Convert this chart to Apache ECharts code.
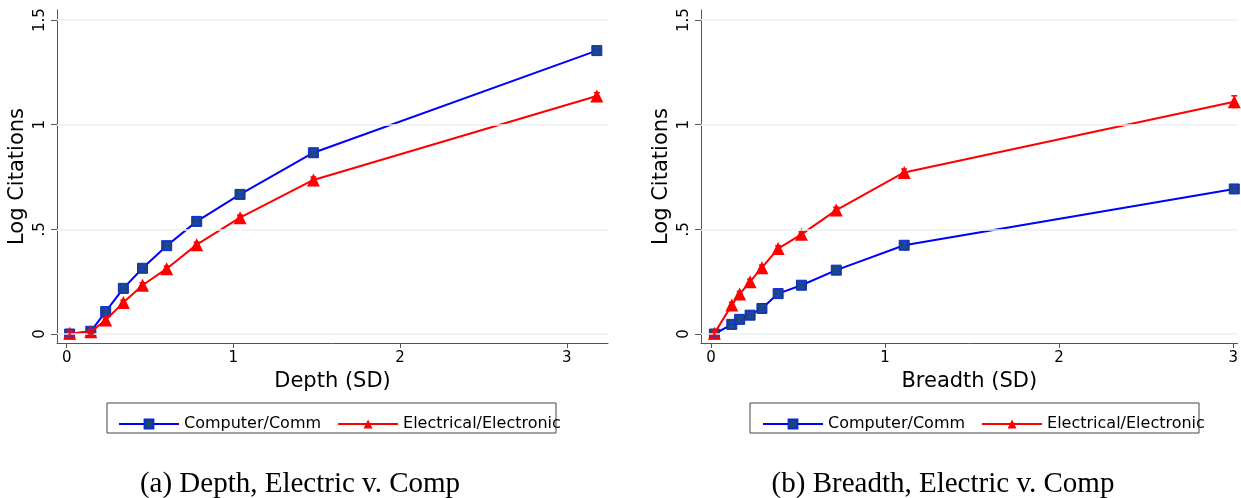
<!DOCTYPE html>
<html>
<head>
<meta charset="utf-8">
<script src="https://cdn.jsdelivr.net/npm/echarts@6/dist/echarts.min.js"></script>
<style>
  html, body { margin: 0; padding: 0; background: #fff; }
  #main { width: 1241px; height: 498px; }
</style>
</head>
<body>
<div id="main"></div>
<script>
// panel (a): depth
var depthX = [0.018, 0.145, 0.234, 0.34, 0.455, 0.60, 0.78, 1.04, 1.48, 3.18];
var depthComp = [0, 0.013, 0.107, 0.218, 0.314, 0.422, 0.538, 0.667, 0.866, 1.354];
var depthCompErr = [0.012, 0.012, 0.012, 0.012, 0.012, 0.012, 0.012, 0.012, 0.012, 0.014];
var depthElec = [0.003, 0.011, 0.067, 0.15, 0.233, 0.312, 0.427, 0.556, 0.736, 1.137];
var depthElecErr = [0.01, 0.01, 0.01, 0.012, 0.012, 0.012, 0.012, 0.012, 0.014, 0.016];
// panel (b): breadth
var breadthX = [0.02, 0.12, 0.165, 0.225, 0.293, 0.386, 0.52, 0.72, 1.11, 3.006];
var breadthComp = [0, 0.046, 0.07, 0.09, 0.122, 0.193, 0.233, 0.305, 0.424, 0.693];
var breadthCompErr = [0.012, 0.012, 0.012, 0.012, 0.012, 0.012, 0.012, 0.012, 0.012, 0.014];
var breadthElec = [0.003, 0.139, 0.191, 0.25, 0.317, 0.408, 0.476, 0.592, 0.772, 1.11];
var breadthElecErr = [0.01, 0.012, 0.012, 0.012, 0.012, 0.014, 0.012, 0.014, 0.016, 0.028];

var yTicks = [0, 0.5, 1, 1.5];
var xTicks = [0, 1, 2, 3];
var names = ['Computer/Comm', 'Electrical/Electronic'];

function pairs(xs, ys) {
    return xs.map(function (x, i) { return [x, ys[i]]; });
}
function errRows(xs, ys, es) {
    return xs.map(function (x, i) { return [x, ys[i] - es[i], ys[i] + es[i]]; });
}

var font = 'DejaVu Sans';
var myChart = echarts.init(document.getElementById('main'));

function xAxisFor(grid, name, min, max) {
    return {
        type: 'value', gridIndex: grid, min: min, max: max,
        name: name, nameLocation: 'middle', nameGap: 22,
        nameTextStyle: { fontFamily: font, fontSize: 21, color: '#000' },
        axisLine: { show: true, onZero: false, lineStyle: { color: '#555', width: 1 } },
        axisTick: { show: true, length: 5, customValues: xTicks, lineStyle: { color: '#555' } },
        axisLabel: { customValues: xTicks, margin: 8, fontFamily: font, fontSize: 15, color: '#000' },
        splitLine: { show: false }
    };
}
function yAxisFor(grid) {
    return {
        type: 'value', gridIndex: grid, min: -0.043, max: 1.548,
        name: 'Log Citations', nameLocation: 'middle', nameGap: 29,
        nameTextStyle: { fontFamily: font, fontSize: 21, color: '#000' },
        axisLine: { show: true, onZero: false, lineStyle: { color: '#555', width: 1 } },
        axisTick: { show: true, length: 6, customValues: yTicks, lineStyle: { color: '#555' } },
        axisLabel: {
            customValues: yTicks, rotate: 90, margin: 9,
            fontFamily: font, fontSize: 15, color: '#000',
            formatter: function (v) { return v === 0.5 ? '.5' : String(v); }
        },
        splitLine: { show: false }
    };
}
var gridLines = {
    silent: true, symbol: 'none', label: { show: false },
    lineStyle: { color: '#eaf2f3', width: 1.5, type: 'solid' },
    data: yTicks.map(function (v) { return { yAxis: v }; })
};
function compSeries(idx, data) {
    return {
        name: names[0], type: 'line', xAxisIndex: idx, yAxisIndex: idx, data: data,
        symbol: 'rect', symbolSize: 10, z: 3,
        lineStyle: { color: '#0000ff', width: 2 },
        itemStyle: { color: '#1a476f', borderColor: '#0a2bd0', borderWidth: 1 },
        markLine: gridLines
    };
}
function elecSeries(idx, data) {
    return {
        name: names[1], type: 'line', xAxisIndex: idx, yAxisIndex: idx, data: data,
        symbol: 'triangle', symbolSize: 13, z: 4,
        lineStyle: { color: '#ff0000', width: 2 },
        itemStyle: { color: '#ff0000' }
    };
}
function errSeries(idx, rows, color, z) {
    return {
        type: 'custom', xAxisIndex: idx, yAxisIndex: idx, data: rows, z: z, silent: true,
        renderItem: function (params, api) {
            var lo = api.coord([api.value(0), api.value(1)]);
            var hi = api.coord([api.value(0), api.value(2)]);
            var w = 3;
            var st = { stroke: color, lineWidth: 1.5 };
            return {
                type: 'group', children: [
                    { type: 'line', shape: { x1: lo[0], y1: lo[1], x2: hi[0], y2: hi[1] }, style: st },
                    { type: 'line', shape: { x1: lo[0] - w, y1: lo[1], x2: lo[0] + w, y2: lo[1] }, style: st },
                    { type: 'line', shape: { x1: hi[0] - w, y1: hi[1], x2: hi[0] + w, y2: hi[1] }, style: st }
                ]
            };
        }
    };
}
function legendAt(left) {
    return {
        data: names, left: left, top: 411, itemWidth: 60, itemHeight: 11, itemGap: 16,
        selectedMode: false,
        textStyle: { fontFamily: font, fontSize: 16, color: '#000' }
    };
}

myChart.setOption({
    animation: false,
    grid: [
        { left: 57, right: 633, top: 10, bottom: 155 },
        { left: 701, right: 0, top: 10, bottom: 155 }
    ],
    xAxis: [xAxisFor(0, 'Depth (SD)', -0.058, 3.247), xAxisFor(1, 'Breadth (SD)', -0.057, 3.025)],
    yAxis: [yAxisFor(0), yAxisFor(1)],
    legend: [legendAt(113), legendAt(757)],
    graphic: [
        { type: 'rect', shape: { x: 107, y: 403, width: 449, height: 30 }, style: { fill: 'none', stroke: '#444', lineWidth: 1 } },
        { type: 'rect', shape: { x: 750, y: 403, width: 449, height: 30 }, style: { fill: 'none', stroke: '#444', lineWidth: 1 } },
        { type: 'text', x: 300, y: 484, style: { text: '(a) Depth, Electric v. Comp', font: '29px "Liberation Serif"', fill: '#000', textAlign: 'center', textVerticalAlign: 'middle' } },
        { type: 'text', x: 943, y: 484, style: { text: '(b) Breadth, Electric v. Comp', font: '29px "Liberation Serif"', fill: '#000', textAlign: 'center', textVerticalAlign: 'middle' } }
    ],
    series: [
        compSeries(0, pairs(depthX, depthComp)),
        elecSeries(0, pairs(depthX, depthElec)),
        errSeries(0, errRows(depthX, depthComp, depthCompErr), '#1f3fd6', 5),
        errSeries(0, errRows(depthX, depthElec, depthElecErr), '#ff0000', 5),
        compSeries(1, pairs(breadthX, breadthComp)),
        elecSeries(1, pairs(breadthX, breadthElec)),
        errSeries(1, errRows(breadthX, breadthComp, breadthCompErr), '#1f3fd6', 5),
        errSeries(1, errRows(breadthX, breadthElec, breadthElecErr), '#ff0000', 5)
    ]
});
</script>
</body>
</html>
